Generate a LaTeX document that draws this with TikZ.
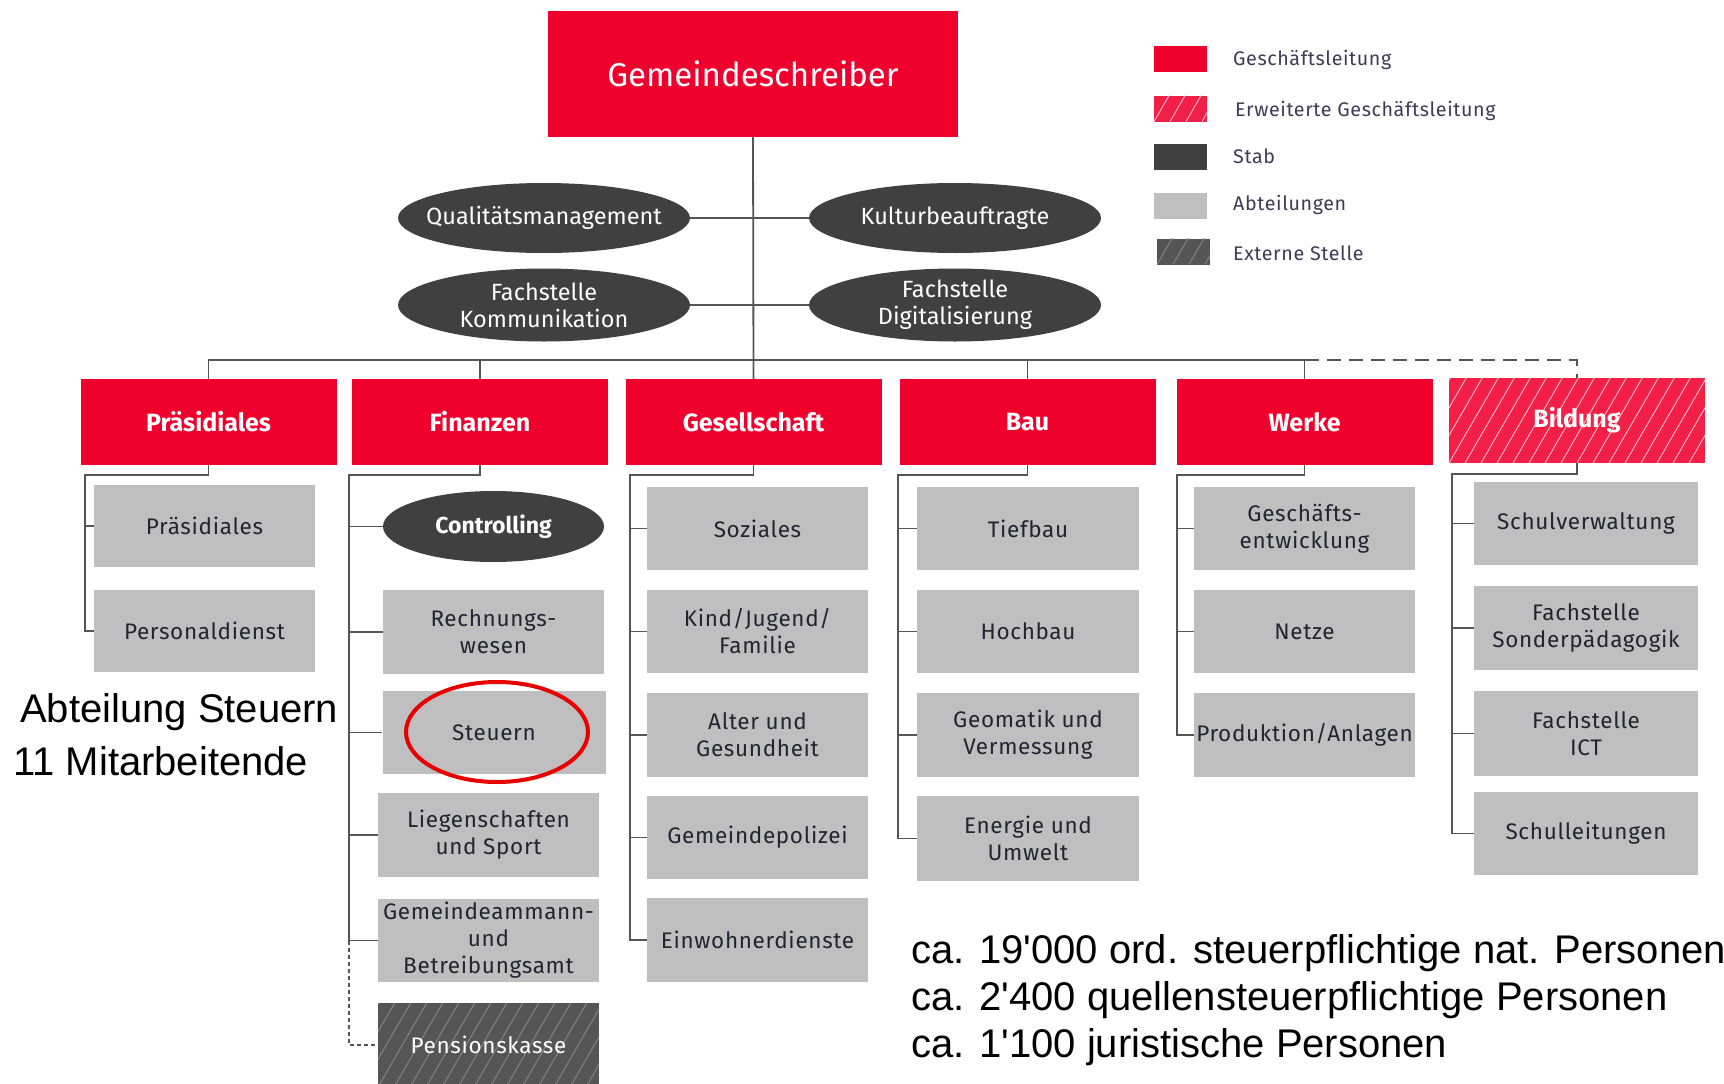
\documentclass[tikz,border=0pt]{standalone}
\usepackage{fontspec}
\setmainfont{Fira Sans}
\newfontfamily\arialf{Liberation Sans}
\newfontfamily\boxf[LetterSpace=3]{Fira Sans}
\usetikzlibrary{shapes.geometric}
\definecolor{gred}{RGB}{240,0,45}
\definecolor{stabgray}{RGB}{64,64,64}
\definecolor{abtgray}{RGB}{191,191,191}
\definecolor{linegray}{RGB}{85,85,85}
\definecolor{extgray}{RGB}{85,85,85}
\definecolor{txtdark}{RGB}{35,35,50}
\definecolor{legtxt}{RGB}{60,60,85}
\definecolor{circred}{RGB}{230,0,0}
\begin{document}
\begin{tikzpicture}[x=1pt,y=-1pt,
  hdr/.style={rectangle, fill=gred, text=white, font=\fontsize{25}{29}\selectfont\bfseries, minimum width=256, minimum height=86, inner sep=0},
  abt/.style={rectangle, fill=abtgray, text=txtdark, font=\boxf\fontsize{22.5}{27}\selectfont, align=center, minimum width=221, minimum height=83, inner sep=0},
  stab/.style={ellipse, fill=stabgray, text=white, font=\fontsize{23.5}{27}\selectfont, align=center, inner xsep=-40pt, inner ysep=-12pt, minimum width=292, minimum height=70},
  conn/.style={draw=linegray, line width=1.8},
  hatch/.style={path picture={\foreach \i in {-8,...,20} \draw[#1, line width=0.9] ([xshift=\i*16pt]path picture bounding box.south west) -- ++(55,-95);}},
  legbox/.style={rectangle, minimum width=53, minimum height=26, inner sep=0},
  legtext/.style={anchor=west, text=legtxt, font=\boxf\fontsize{19.7}{23}\selectfont, inner sep=0},
  note/.style={anchor=base west, inner sep=0, font=\arialf\fontsize{40}{48}\selectfont}
]
\useasboundingbox (0,0) rectangle (1724,1084);
\fill[white] (0,0) rectangle (1724,1084);

% top
\node[rectangle, fill=gred, text=white, font=\fontsize{33}{37}\selectfont, minimum width=410, minimum height=126, inner sep=0] (gs) at (753,74) {Gemeindeschreiber};

% staff ellipses
\node[stab] (qm) at (544,218) {Qualitätsmanagement};
\node[stab] (kb) at (955,218) {Kulturbeauftragte};
\node[stab, minimum height=73] (fk) at (544,305) {Fachstelle\\Kommunikation};
\node[stab, minimum height=73] (fd) at (955,305) {Fachstelle\\Digitalisierung};

% headers
\node[hdr] (hP) at (208.5,422) {Präsidiales};
\node[hdr] (hF) at (480,422) {Finanzen};
\node[hdr] (hG) at (753.5,422) {Gesellschaft};
\node[hdr] (hB) at (1027.5,422) {Bau};
\node[hdr] (hW) at (1304.5,422) {Werke};
\node[hdr, fill=gred!88!white, hatch={white!75!gred}, minimum height=85] (hBi) at (1577,420.5) {Bildung};

% connectors top
\coordinate (bus) at (0,360);
\draw[conn] (gs.south) -- (hG.north);
\draw[conn] (qm.east) -- (kb.west);
\draw[conn] (fk.east) -- (fd.west);
\draw[conn] (hP.north) -- (hP.north |- bus) -- (hW.north |- bus) -- (hW.north);
\draw[conn] (hF.north) -- (hF.north |- bus);
\draw[conn] (hB.north) -- (hB.north |- bus);
\draw[conn, dash pattern=on 14pt off 8pt] (hW.north |- bus) -- (hBi.north |- bus) -- (hBi.north);

% Präsidiales
\node[abt, minimum height=82] (p1) at (204.5,526) {Präsidiales};
\node[abt, minimum height=82] (p2) at (204.5,631) {Personaldienst};
\coordinate (cP) at (85,475);
\draw[conn] (hP.south) |- (cP) -- (cP |- p2.west) -- (p2.west);
\draw[conn] (cP |- p1.west) -- (p1.west);

% Finanzen
\node[stab, font=\fontsize{23}{27}\selectfont\bfseries, minimum width=221, minimum height=71] (ctl) at (493.5,526.5) {Controlling};
\node[abt, minimum height=84] (f1) at (493.5,632) {Rechnungs-\\wesen};
\node[abt, minimum width=223] (f2) at (494,732.5) {Steuern};
\node[abt, minimum height=84] (f3) at (488.5,835) {Liegenschaften\\und Sport};
\node[abt] (f4) at (488.5,940.5) {Gemeindeammann-\\und\\Betreibungsamt};
\node[abt, fill=extgray, text=white, hatch={white!30!extgray}, minimum height=84] (f5) at (488.5,1045) {Pensionskasse};
\coordinate (cF) at (349,475);
\draw[conn] (hF.south) |- (cF) -- (cF |- f4.west) -- (f4.west);
\foreach \n in {ctl,f1,f2,f3} \draw[conn] (cF |- \n.west) -- (\n.west);
\draw[draw=linegray, line width=1.2, dash pattern=on 4pt off 3pt] (cF |- f4.west) -- (cF |- f5.west) -- (f5.west);
\node[draw=circred, line width=4, ellipse, minimum width=182, minimum height=100, inner sep=0] (circ) at (497,732) {};

% Gesellschaft
\node[abt] (g1) at (757.5,528.5) {Soziales};
\node[abt] (g2) at (757.5,631.5) {Kind/Jugend/\\Familie};
\node[abt, minimum height=84] (g3) at (757.5,735) {Alter und\\Gesundheit};
\node[abt] (g4) at (757.5,837.5) {Gemeindepolizei};
\node[abt, minimum height=84] (g5) at (757.5,940) {Einwohnerdienste};
\coordinate (cG) at (630,475);
\draw[conn] (hG.south) |- (cG) -- (cG |- g5.west) -- (g5.west);
\foreach \n in {g1,g2,g3,g4} \draw[conn] (cG |- \n.west) -- (\n.west);

% Bau
\node[abt, minimum width=222] (b1) at (1028,528.5) {Tiefbau};
\node[abt, minimum width=222] (b2) at (1028,631.5) {Hochbau};
\node[abt, minimum width=222, minimum height=84] (b3) at (1028,735) {Geomatik und\\Vermessung};
\node[abt, minimum width=222, minimum height=85] (b4) at (1028,838.5) {Energie und\\Umwelt};
\coordinate (cB) at (898,475);
\draw[conn] (hB.south) |- (cB) -- (cB |- b4.west) -- (b4.west);
\foreach \n in {b1,b2,b3} \draw[conn] (cB |- \n.west) -- (\n.west);

% Werke
\node[abt] (w1) at (1304.5,528.5) {Geschäfts-\\entwicklung};
\node[abt] (w2) at (1304.5,631.5) {Netze};
\node[abt, minimum height=84] (w3) at (1304.5,735) {Produktion/Anlagen};
\coordinate (cW) at (1177,475);
\draw[conn] (hW.south) |- (cW) -- (cW |- w3.west) -- (w3.west);
\foreach \n in {w1,w2} \draw[conn] (cW |- \n.west) -- (\n.west);

% Bildung
\node[abt, minimum width=224] (bi1) at (1586,523.5) {Schulverwaltung};
\node[abt, minimum width=224, minimum height=84] (bi2) at (1586,628) {Fachstelle\\Sonderpädagogik};
\node[abt, minimum width=224, minimum height=85] (bi3) at (1586,733.5) {Fachstelle\\ICT};
\node[abt, minimum width=224] (bi4) at (1586,833.5) {Schulleitungen};
\coordinate (cBi) at (1452,474);
\draw[conn] (hBi.south) |- (cBi) -- (cBi |- bi4.west) -- (bi4.west);
\foreach \n in {bi1,bi2,bi3} \draw[conn] (cBi |- \n.west) -- (\n.west);

% legend
\node[legbox, fill=gred] (l1) at (1180.5,59) {};
\node[legbox, fill=gred!88!white, hatch={white!75!gred}] (l2) at (1180.5,108.5) {};
\node[legbox, fill=stabgray] (l3) at (1180.5,156.5) {};
\node[legbox, fill=abtgray] (l4) at (1180.5,206) {};
\node[legbox, fill=extgray, hatch={white!30!extgray}] (l5) at (1183.5,251.5) {};
\node[legtext] (t1) at (1233,60) {Geschäftsleitung};
\node[legtext] (t2) at (1235,111) {Erweiterte Geschäftsleitung};
\node[legtext] (t3) at (1233,156) {Stab};
\node[legtext] (t4) at (1233,205) {Abteilungen};
\node[legtext] (t5) at (1233,253) {Externe Stelle};

% annotations
\node[note] (a1) at (20,722) {Abteilung Steuern};
\node[note] (a2) at (13,775) {11 Mitarbeitende};
\node[note] (s1) at (911,963) {ca. 19'000 ord. steuerpflichtige nat. Personen};
\node[note] (s2) at (911,1010) {ca. 2'400 quellensteuerpflichtige Personen};
\node[note] (s3) at (911,1057) {ca. 1'100 juristische Personen};
\end{tikzpicture}
\end{document}
